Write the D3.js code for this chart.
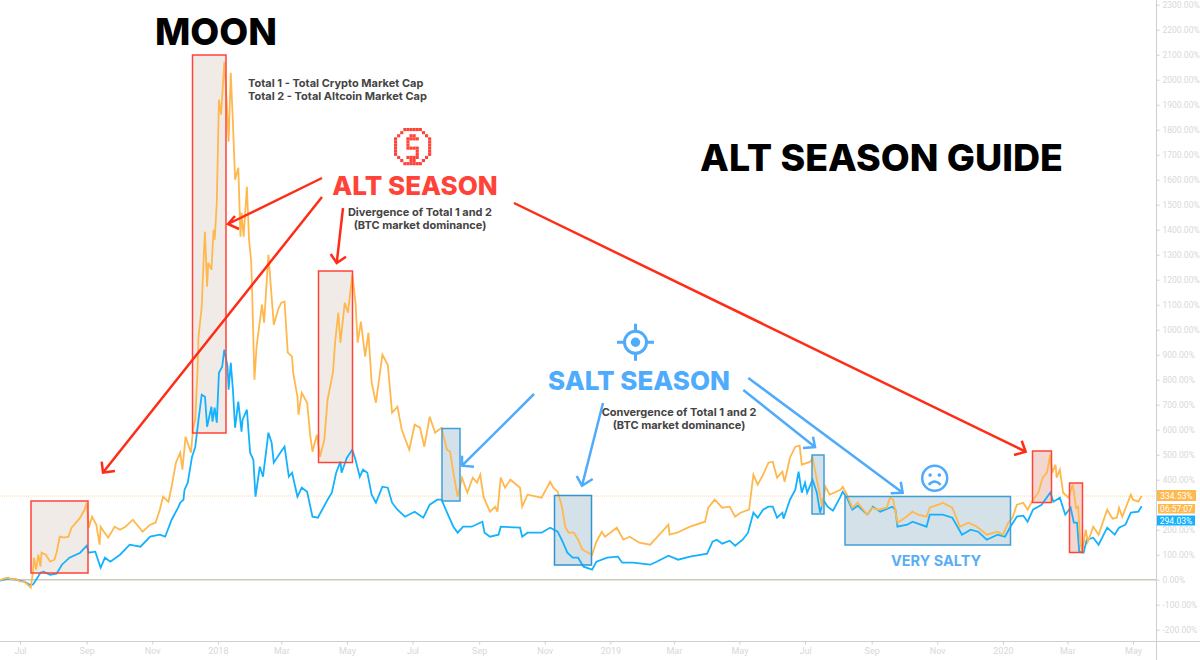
<!DOCTYPE html>
<html lang="en">
<head>
<meta charset="UTF-8">
<title>Alt season guide</title>
<style>
    html, body { margin: 0; padding: 0; background: #fff; overflow: hidden; }
    svg { display: block; font-family: Inter, "Noto Sans", sans-serif; }
    .axis text { font-family: Roboto, sans-serif; font-size: 8.5px; fill: #d8d8d8; }
    .axis line, .axis path { stroke: #cfcfcf; }
</style>
</head>
<body>
<svg id="chart" width="1200" height="660"></svg>
<script src="https://d3js.org/d3.v7.min.js"></script>
<script>
// days counted from 1 Jul 2017, values in % change
const total1Days = [-19,-15,-11,-7,-4,0,4,7,10,12,13,15,17,19,20,24,28,32,34,37,41,45,48,52,56,60,62,64,67,71,74,75,78,82,88,93,98,105,114,121,126,130,133,138,141,145,149,151,154,159,161,163,165,166,169,171,172,174,175,178,180,181,183,185,187,190,192,194,196,198,200,203,205,206,208,211,213,215,216,218,220,225,227,231,234,236,240,243,246,249,253,254,258,259,262,267,270,272,276,279,283,286,291,293,296,298,302,305,309,312,314,317,321,324,327,331,337,342,346,351,355,362,367,372,376,381,386,392,397,400,403,407,411,416,421,425,428,431,437,442,444,447,451,456,465,467,472,485,493,496,500,504,507,510,515,519,523,532,536,541,544,555,561,567,576,586,592,603,604,611,623,637,640,646,653,660,665,670,678,682,686,691,696,700,704,709,711,716,721,725,727,735,737,741,746,749,753,763,765,769,774,779,788,792,798,806,809,812,816,823,830,835,843,846,854,858,867,874,882,890,899,909,914,919,923,927,933,937,942,947,951,955,958,960,963,964,967,970,975,979,982,984,986,988,991,993,998,1003,1011,1016,1020,1022,1025,1033,1035,1040,1043];
const total1 = [-3,4,8,0,4,-7,-8,-20,-32,28,88,40,100,52,108,100,72,80,108,172,168,172,208,228,248,280,308,208,252,220,140,212,192,168,212,200,212,240,192,220,228,280,332,312,372,468,508,440,572,508,608,640,828,972,1092,1308,1392,1172,1268,1240,1400,1360,1508,1920,1860,2072,1932,1752,2028,1828,1600,1648,1372,1468,1372,1572,1360,1272,1132,800,932,1100,1028,1300,1132,1020,1080,1108,1112,908,892,828,732,660,748,708,572,512,580,492,560,720,828,948,1068,948,1108,1068,1220,1108,948,1032,892,988,788,708,900,860,668,692,600,520,620,608,532,652,588,608,520,512,428,332,408,348,408,388,420,332,272,292,272,408,368,400,368,292,340,328,392,368,352,292,212,188,188,160,120,100,152,192,172,208,160,172,148,140,168,220,180,188,212,232,288,320,288,292,252,268,280,420,380,420,468,472,408,432,392,488,532,536,460,472,488,400,292,372,340,360,372,340,288,308,260,288,280,288,328,320,228,248,272,260,252,288,300,308,288,212,228,212,180,192,180,228,248,300,308,280,320,348,408,428,500,428,460,408,440,348,328,380,288,292,148,112,200,152,212,180,280,244,248,288,252,340,320,312,334.53];

const total2Days = [-19,-11,-4,4,9,12,15,19,22,28,34,39,46,56,62,64,70,75,79,84,93,102,112,121,130,135,141,147,149,152,153,156,160,163,166,169,172,174,178,179,181,183,185,188,190,193,194,196,198,200,203,206,207,211,214,217,219,223,226,231,234,236,242,246,250,253,258,262,267,272,277,286,290,294,298,299,304,309,312,316,319,323,327,331,337,342,346,351,358,367,375,381,388,392,398,403,407,412,420,430,432,437,445,447,465,467,472,485,493,500,505,509,514,519,524,532,536,546,556,560,570,586,592,603,612,623,639,644,648,653,660,665,672,677,682,686,691,696,700,704,709,710,716,721,724,727,730,732,737,741,744,747,751,756,763,765,769,774,779,788,793,800,811,814,816,825,830,843,846,858,867,876,884,891,899,909,916,921,927,933,937,942,950,958,961,967,972,977,980,983,985,989,992,998,1003,1011,1018,1022,1028,1033,1040,1043];
const total2 = [-4,4,0,-8,-20,-20,0,28,32,20,24,60,88,108,136,108,112,48,88,72,100,140,132,172,180,172,240,288,308,320,360,388,492,532,640,740,732,612,692,632,688,628,828,852,920,852,760,868,760,608,712,592,640,680,508,480,332,452,412,588,548,468,508,532,412,428,332,368,352,252,248,320,348,428,472,428,488,520,480,412,440,428,340,308,372,368,308,280,252,272,248,300,320,320,260,212,188,212,212,232,188,172,180,212,208,172,188,188,208,192,148,108,88,88,52,40,72,88,92,68,68,60,72,96,80,92,104,152,160,144,156,136,160,188,268,248,280,292,292,248,268,244,320,360,432,348,388,348,400,348,268,320,292,276,332,352,328,280,296,260,292,272,292,280,212,220,232,212,260,260,248,180,200,192,160,180,172,212,252,256,232,280,300,348,312,328,260,288,228,228,112,108,160,168,140,208,180,208,220,268,272,294.03];

// 300.00% sits behind the price tags in the picture
const yTicks = [-200,-100,0,100,200,400,500,600,700,800,900,1000,1100,1200,1300,1400,1500,1600,1700,1800,1900,2000,2100,2200,2300];
const xTickDates = ["2017-07-01","2017-09-01","2017-11-01","2018-01-01","2018-03-01","2018-05-01","2018-07-01","2018-09-01","2018-11-01","2019-01-01","2019-03-01","2019-05-01","2019-07-01","2019-09-01","2019-11-01","2020-01-01","2020-03-01","2020-05-01"];
const xTickLabels = ["Jul","Sep","Nov","2018","Mar","May","Jul","Sep","Nov","2019","Mar","May","Jul","Sep","Nov","2020","Mar","May"];

const orange = "#ffb84d", blue = "#14b1ff", red = "#ff2d17", red2 = "#ff4338", blue2 = "#4fabfb";

const svg = d3.select("#chart");
const parseDay = d3.utcParse("%Y-%m-%d");
const day0 = parseDay("2017-07-01");

const x = d3.scaleUtc().domain([day0, parseDay("2020-05-01")]).range([20, 1133]);
const y = d3.scaleLinear().domain([0, 2300]).range([579.7, 4.7]);
const dayToX = d => x(d3.utcDay.offset(day0, d));

// boxes: x0, y0, x1, y1, stroke, fill
const boxes = [
    [31, 501, 88, 573, red2, "#f1ebe7"],
    [192.5, 55, 226, 433, red2, "#f1ebe7"],
    [318.5, 271, 352.5, 462.5, red2, "#f1ebe7"],
    [442, 428.5, 460, 501, "#3f9fd8", "#d5e1e8"],
    [554.5, 495.5, 591.5, 565, "#2f94d0", "#d5e1e8"],
    [812, 455, 824, 514, "#3f9fd8", "#d5e1e8"],
    [845, 496.5, 1010.5, 545, "#3f9fd8", "#d5e1e8"],
    [1032.5, 451, 1051.5, 502.5, red2, "#f2d6d0"],
    [1069.5, 483, 1082.5, 552.5, red2, "#f2d6d0"]
];

svg.append("g").selectAll("rect").data(boxes).join("rect")
    .attr("x", d => d[0]).attr("y", d => d[1])
    .attr("width", d => d[2] - d[0]).attr("height", d => d[3] - d[1])
    .attr("fill", d => d[5]);

// zero line and last price line
svg.append("line").attr("x1", 0).attr("x2", 1156).attr("y1", y(0)).attr("y2", y(0))
    .attr("stroke", "#c9c9c0").attr("stroke-width", 1.5);
svg.append("line").attr("x1", 0).attr("x2", 1156).attr("y1", y(334.53)).attr("y2", y(334.53))
    .attr("stroke", "#ffd79c").attr("stroke-width", 1).attr("stroke-dasharray", "1 1");

const line = d3.line().x(d => d[0]).y(d => d[1]);
const path1 = total1.map((v, i) => [dayToX(total1Days[i]), y(v)]);
const path2 = total2.map((v, i) => [dayToX(total2Days[i]), y(v)]);

svg.append("path").attr("d", line(path2)).attr("fill", "none").attr("stroke", blue).attr("stroke-width", 1.8);
svg.append("path").attr("d", line(path1)).attr("fill", "none").attr("stroke", orange).attr("stroke-width", 1.8);

svg.append("g").selectAll("rect").data(boxes).join("rect")
    .attr("x", d => d[0]).attr("y", d => d[1])
    .attr("width", d => d[2] - d[0]).attr("height", d => d[3] - d[1])
    .attr("fill", "none").attr("stroke", d => d[4]).attr("stroke-width", 1.5);

// axes
const yAxis = d3.axisRight(y).tickValues(yTicks).tickSize(3).tickPadding(3)
    .tickFormat(d => d.toFixed(2) + "%");
svg.append("g").attr("class", "axis").attr("transform", "translate(1156.5,0)").call(yAxis)
    .call(g => g.select(".domain").remove());
svg.append("line").attr("x1", 1156.5).attr("x2", 1156.5).attr("y1", 0).attr("y2", 660)
    .attr("stroke", "#cfcfcf").attr("stroke-width", 1);

const xAxis = d3.axisBottom(x).tickValues(xTickDates.map(parseDay)).tickSize(3).tickPadding(3)
    .tickFormat((d, i) => xTickLabels[i]);
svg.append("g").attr("class", "axis").attr("transform", "translate(0,641.5)").call(xAxis)
    .call(g => g.select(".domain").remove())
    .call(g => g.selectAll("text").style("font-size", "9px"));
svg.append("line").attr("x1", 0).attr("x2", 1200).attr("y1", 641.5).attr("y2", 641.5)
    .attr("stroke", "#cfcfcf").attr("stroke-width", 1);

// price tags on the right
const tags = [
    [1157, 490, 39, 11, orange, "334.53%"],
    [1158, 504, 37, 9.5, orange, "06:57:07"],
    [1157, 515.5, 38, 10, blue, "294.03%"]
];
tags.forEach(t => {
    svg.append("rect").attr("x", t[0]).attr("y", t[1]).attr("width", t[2]).attr("height", t[3]).attr("fill", t[4]);
    svg.append("text").attr("x", t[0] + t[2] / 2).attr("y", t[1] + t[3] / 2 + 3)
        .attr("text-anchor", "middle").attr("fill", "#fff")
        .style("font-family", "Roboto, sans-serif").style("font-size", "8.5px").text(t[5]);
});

// arrows: start, tip, barb, barb
const arrows = [
    [[322, 197], [103, 472.5], [101.7, 461.7], [115, 471], red],
    [[322, 178], [228, 224], [235, 216], [239, 229], red],
    [[343, 208], [336.7, 263], [330.7, 254], [346, 256.7], red],
    [[514, 203], [1025.7, 451.7], [1021.7, 440.7], [1014, 455], red],
    [[534, 394], [462, 465.7], [462, 455.7], [474, 466.7], blue2],
    [[603, 403], [582, 485.7], [576.7, 476], [592.7, 479], blue2],
    [[743.3, 390], [815, 447], [813, 436.7], [803, 448], blue2],
    [[748.3, 378], [902.7, 492.7], [900.7, 481.7], [890.7, 493.3], blue2]
];
arrows.forEach(a => {
    svg.append("path")
        .attr("d", line([a[0], a[1]]) + line([a[2], a[1], a[3]]))
        .attr("fill", "none").attr("stroke", a[4]).attr("stroke-width", 2.5);
});

// text
const labels = [
    ["MOON", 216, 45, 37.5, 800, "#000", "middle"],
    ["ALT SEASON GUIDE", 881.5, 171, 37.5, 800, "#000", "middle"],
    ["ALT SEASON", 415, 194.5, 26, 800, red2, "middle"],
    ["SALT SEASON", 639, 389.5, 26, 800, blue2, "middle"],
    ["VERY SALTY", 936, 566, 14.5, 700, "#5aaef5", "middle"],
    ["Total 1 - Total Crypto Market Cap", 248, 87, 11, 700, "#444", "start"],
    ["Total 2 - Total Altcoin Market Cap", 248, 100, 11, 700, "#444", "start"],
    ["Divergence of Total 1 and 2", 420, 216, 11, 700, "#444", "middle"],
    ["(BTC market dominance)", 420, 229, 11, 700, "#444", "middle"],
    ["Convergence of Total 1 and 2", 679, 416, 11, 700, "#444", "middle"],
    ["(BTC market dominance)", 679, 429, 11, 700, "#444", "middle"]
];
svg.append("g").selectAll("text").data(labels).join("text")
    .attr("x", d => d[1]).attr("y", d => d[2])
    .attr("font-size", d => d[3]).attr("font-weight", d => d[4])
    .attr("fill", d => d[5]).attr("text-anchor", d => d[6])
    .text(d => d[0]);

// pixel dollar icon
const dollar = [
    "...XXXXXX...",
    "..X......X..",
    ".X...XX...X.",
    "X...XXXX...X",
    "X...X......X",
    "X...X......X",
    "X...XXXX...X",
    "X......X...X",
    "X......X...X",
    ".X..XXXX..X.",
    "..X..XX..X..",
    "...XXXXXX..."
];
const cell = 3.1;
dollar.forEach((row, r) => row.split("").forEach((c, i) => {
    if (c === "X") svg.append("rect").attr("x", 394 + i * cell).attr("y", 128 + r * cell)
        .attr("width", cell).attr("height", cell).attr("fill", red2);
}));

// target icon
const target = svg.append("g").attr("transform", "translate(635.5,342.3)").attr("stroke", blue2).attr("stroke-width", 3).attr("fill", "none");
target.append("circle").attr("r", 11);
target.append("circle").attr("r", 4.7).attr("fill", blue2).attr("stroke", "none");
target.append("path").attr("d", "M0,-18.5V-11M0,11V18.5M-18.5,0H-11M11,0H18.5");

// sad face
const face = svg.append("g").attr("transform", "translate(934.7,478.3)").attr("stroke", blue2).attr("stroke-width", 2.5).attr("fill", "none");
face.append("circle").attr("r", 12.5);
face.append("path").attr("d", "M-6,6.5Q0,0 6,6.5");
face.append("circle").attr("cx", -4.6).attr("cy", -3.2).attr("r", 1.8).attr("fill", blue2).attr("stroke", "none");
face.append("circle").attr("cx", 4.6).attr("cy", -3.2).attr("r", 1.8).attr("fill", blue2).attr("stroke", "none");
</script>
</body>
</html>
